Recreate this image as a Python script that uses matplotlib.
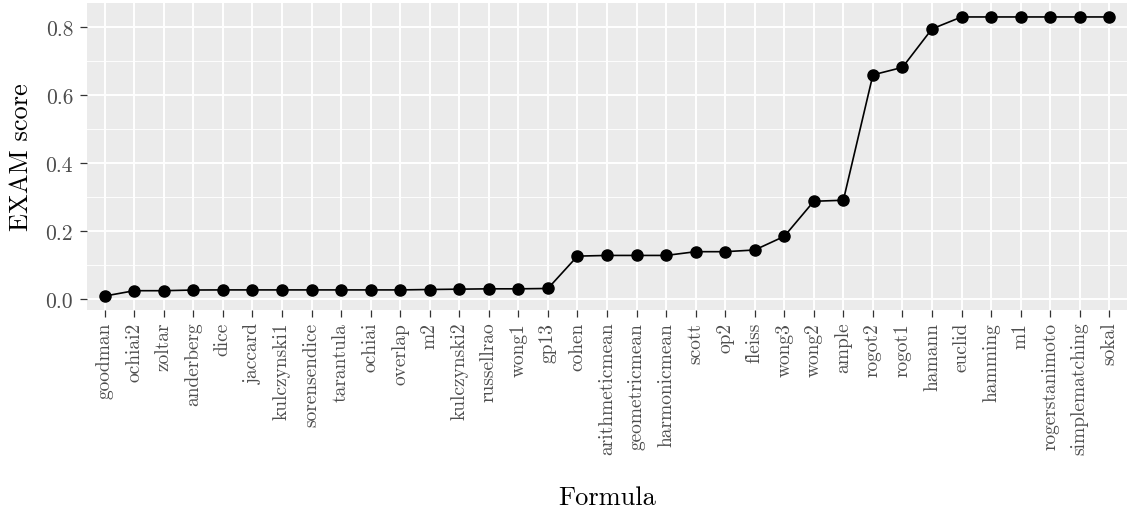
import matplotlib
matplotlib.use("Agg")
import matplotlib.pyplot as plt
import numpy as np

formulas = ["goodman", "ochiai2", "zoltar", "anderberg", "dice", "jaccard", "kulczynski1",
            "sorensendice", "tarantula", "ochiai", "overlap", "m2", "kulczynski2", "russellrao",
            "wong1", "gp13", "cohen", "arithmeticmean", "geometricmean", "harmonicmean", "scott",
            "op2", "fleiss", "wong3", "wong2", "ample", "rogot2", "rogot1", "hamann", "euclid",
            "hamming", "m1", "rogerstanimoto", "simplematching", "sokal"]
scores = [0.0098, 0.0255, 0.0255, 0.0275, 0.0278, 0.0278, 0.0278,
          0.0278, 0.0278, 0.0278, 0.0278, 0.029, 0.030, 0.031,
          0.031, 0.032, 0.127, 0.129, 0.129, 0.129, 0.140,
          0.140, 0.145, 0.185, 0.288, 0.291, 0.659, 0.681, 0.794, 0.829,
          0.829, 0.829, 0.829, 0.829, 0.829]
yticks = [0.0, 0.2, 0.4, 0.6, 0.8]

plt.rcParams['font.family'] = ['cmr10', 'DejaVu Serif']
plt.rcParams['axes.formatter.use_mathtext'] = True

fig = plt.figure(figsize=(11.31, 5.10), dpi=100)
ax = fig.add_axes([87/1131, 1 - 311/510, (1127-87)/1131, (311-4)/510])
ax.set_facecolor('#EBEBEB')
for s in ax.spines.values():
    s.set_visible(False)

x = np.arange(len(formulas))
ax.plot(x, scores, color='black', lw=1.2, marker='o', markersize=8, zorder=3)

ax.set_xlim(-0.6, len(formulas) - 1 + 0.6)
ymin, ymax = min(scores), max(scores)
pad = (ymax - ymin) * 0.05
ax.set_ylim(ymin - pad, ymax + pad)

ax.set_xticks(x)
ax.set_xticklabels(formulas, rotation=90, fontsize=14, color='#4D4D4D')
ax.set_yticks(yticks)
ax.set_yticklabels([f"{v:.1f}" for v in yticks], fontsize=15.5, color='#4D4D4D')
ax.set_yticks([0.1, 0.3, 0.5, 0.7], minor=True)
ax.set_xticks(x[:-1] + 0.5, minor=True)
ax.tick_params(axis='both', which='major', length=5, width=0.9, color='#333333', pad=3.5)
ax.tick_params(axis='y', which='major', pad=5)
ax.tick_params(axis='both', which='minor', length=0)
ax.grid(True, which='major', color='white', lw=1.4)
ax.grid(True, which='minor', axis='y', color='white', lw=0.7, alpha=0.9)
ax.set_axisbelow(True)

ax.set_xlabel("Formula", fontsize=19, labelpad=22)
ax.set_ylabel("EXAM score", fontsize=19, labelpad=9)

fig.savefig("out.png", dpi=100)
